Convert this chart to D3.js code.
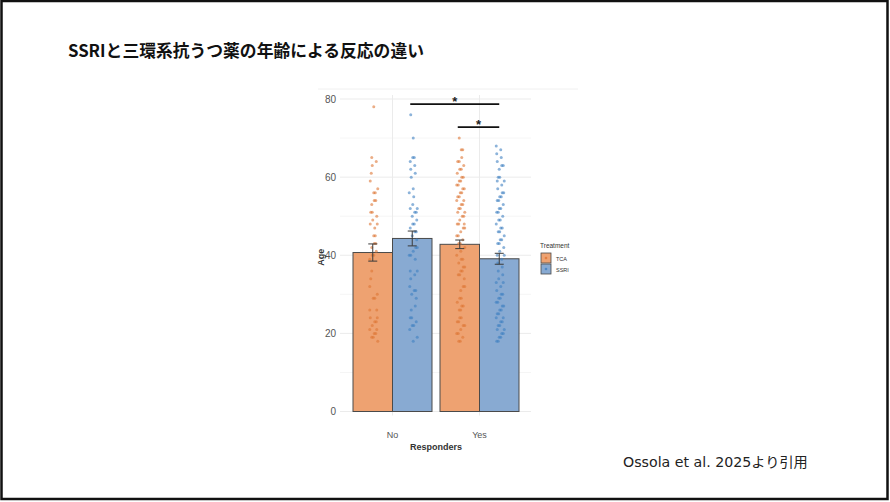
<!DOCTYPE html>
<html>
<head>
<meta charset="utf-8">
<script src="https://cdn.jsdelivr.net/npm/d3@7"></script>
<style>
  body { margin: 0; background: #fff; }
  svg { display: block; }
</style>
</head>
<body>
<div id="slide"></div>
<script>
  // data
  const responders = ["No", "Yes"];
  const treatments = ["TCA", "SSRI"];
  const meanAge = { No: [40.7, 44.3], Yes: [42.8, 39.1] };
  const seAge   = { No: [2.2, 1.9],   Yes: [1.1, 1.4] };
  const ageNoTCA = [78,65,64,63,61,59,57,56,56,54,54,53,51,51,50,49,48,48,47,45,45,43,43,42,41,
    40,40,39,36,34,32,30,29,29,26,26,24,24,23,23,22,21,21,20,20,19,19,18];
  const ageNoSSRI = [76,70,65,65,64,63,62,61,60,57,56,55,53,52,52,51,51,50,49,48,48,47,46,46,45,
    44,42,42,41,40,40,39,36,36,35,34,32,31,31,30,29,27,26,24,24,23,22,22,21,19,18];
  const ageYesTCA = [70,67,67,65,64,64,63,62,62,61,60,60,59,59,58,58,57,57,56,56,55,55,54,54,53,
    53,52,52,51,51,50,50,49,48,48,48,47,47,46,45,45,44,43,43,42,41,40,39,39,38,37,37,36,36,35,35,
    34,32,32,31,29,29,28,27,27,26,26,24,24,23,23,22,22,21,20,20,19,18,18];
  const ageYesSSRI = [68,67,66,65,64,63,63,62,60,60,59,59,58,57,56,56,55,55,54,54,53,52,52,51,51,
    50,49,49,48,47,47,46,46,45,44,44,43,43,42,41,40,40,39,38,37,36,35,34,33,33,32,31,30,30,29,29,
    28,28,27,27,26,26,25,25,24,24,23,23,22,22,21,21,20,20,19,19,18,18];
  const ageTicks = [0, 20, 40, 60, 80];
  const comparisons = [ ["No", "SSRI", "Yes", "SSRI"], ["Yes", "TCA", "Yes", "SSRI"] ];

  const W = 890, H = 502;
  const fillCol = { TCA: "#eea271", SSRI: "#88aad2" };
  const dotCol  = { TCA: "#de7636", SSRI: "#4080c2" };

  const svg = d3.select("#slide").append("svg")
    .attr("width", W).attr("height", H);

  // slide frame
  svg.append("rect")
    .attr("x", 1.5).attr("y", 1).attr("width", 886).attr("height", 498)
    .attr("fill", "#fff").attr("stroke", "#111").attr("stroke-width", 2.5);

  svg.append("text")
    .attr("x", 68).attr("y", 57)
    .style("font-family", "'Noto Sans CJK JP', sans-serif")
    .style("font-size", "16.8px").style("font-weight", "bold").style("fill", "#111")
    .text("SSRIと三環系抗うつ薬の年齢による反応の違い");

  svg.append("text")
    .attr("x", 623).attr("y", 467)
    .style("font-family", "'DejaVu Sans', 'Noto Sans CJK JP', sans-serif")
    .style("font-size", "14.2px").style("fill", "#222")
    .text("Ossola et al. 2025より引用");

  // faint edge of the pasted figure
  svg.append("line")
    .attr("x1", 318).attr("x2", 578).attr("y1", 89).attr("y2", 89)
    .style("stroke", "#f0f0f0").style("stroke-width", "1px");

  // plot panel
  const left = 340, right = 531;
  const x0 = d3.scaleBand().domain(responders).range([349, 523]).paddingInner(0.092).paddingOuter(0.046);
  const x1 = d3.scaleBand().domain(treatments).range([0, x0.bandwidth()]);
  const y = d3.scaleLinear().domain([0, 80]).range([411.5, 99]);
  const font = "'Liberation Sans', Arial, sans-serif";

  // grid
  const minor = [10, 30, 50, 70];
  svg.selectAll(".gminor").data(minor).enter().append("line")
    .attr("x1", left).attr("x2", right)
    .attr("y1", d => y(d)).attr("y2", d => y(d))
    .style("stroke", "#f3f3f3").style("stroke-width", "0.8px");
  svg.selectAll(".gmajor").data(ageTicks).enter().append("line")
    .attr("x1", left).attr("x2", right)
    .attr("y1", d => y(d)).attr("y2", d => y(d))
    .style("stroke", "#ebebeb").style("stroke-width", "1px");
  svg.selectAll(".gx").data(responders).enter().append("line")
    .attr("x1", d => x0(d) + x0.bandwidth() / 2).attr("x2", d => x0(d) + x0.bandwidth() / 2)
    .attr("y1", y(0) + 4).attr("y2", y(80) - 4)
    .style("stroke", "#ebebeb").style("stroke-width", "1px");

  // y axis
  const yAxis = svg.append("g")
    .attr("transform", `translate(${left - 2},0)`)
    .call(d3.axisLeft(y).tickValues(ageTicks).tickSize(0).tickPadding(2));
  yAxis.select(".domain").remove();
  yAxis.selectAll("text").style("font-family", font).style("font-size", "10px").style("fill", "#555");

  const xAxis = svg.append("g")
    .attr("transform", `translate(0,${y(0) + 17})`)
    .call(d3.axisBottom(x0).tickSize(0).tickPadding(3));
  xAxis.select(".domain").remove();
  xAxis.selectAll("text").style("font-family", font).style("font-size", "9px").style("fill", "#555");

  svg.append("text")
    .attr("x", 436).attr("y", 450).attr("text-anchor", "middle")
    .style("font-family", font).style("font-size", "9px").style("font-weight", "bold").style("fill", "#333")
    .text("Responders");
  svg.append("text")
    .attr("transform", `translate(324,${y(39.5)}) rotate(-90)`).attr("text-anchor", "middle")
    .style("font-family", font).style("font-size", "9px").style("font-weight", "bold").style("fill", "#333")
    .text("Age");

  // bars
  const bars = [];
  responders.forEach(r => treatments.forEach((t, k) => bars.push({ r, t, m: meanAge[r][k], se: seAge[r][k] })));
  const cx = d => x0(d.r) + x1(d.t) + x1.bandwidth() / 2;

  svg.selectAll(".bar").data(bars).enter().append("rect")
    .attr("x", d => x0(d.r) + x1(d.t))
    .attr("y", d => y(d.m))
    .attr("width", x1.bandwidth())
    .attr("height", d => y(0) - y(d.m))
    .style("fill", d => fillCol[d.t])
    .style("stroke", "#4a4a4a").style("stroke-width", "1px");

  // jittered points
  const groups = [
    { r: "No", t: "TCA", v: ageNoTCA }, { r: "No", t: "SSRI", v: ageNoSSRI },
    { r: "Yes", t: "TCA", v: ageYesTCA }, { r: "Yes", t: "SSRI", v: ageYesSSRI }
  ];
  groups.forEach(g => {
    const c = x0(g.r) + x1(g.t) + x1.bandwidth() / 2 + 1;
    svg.selectAll(null).data(g.v).enter().append("circle")
      .attr("cx", (d, i) => c + (((i * 37 + d * 11) % 17) / 16 - 0.5) * 8)
      .attr("cy", d => y(d))
      .attr("r", 1.5)
      .style("fill", dotCol[g.t]).style("fill-opacity", 0.6);
  });

  // error bars
  const eb = svg.selectAll(".eb").data(bars).enter().append("g")
    .style("stroke", "#3a3a3a").style("stroke-width", "1px");
  eb.append("line").attr("x1", cx).attr("x2", cx)
    .attr("y1", d => y(d.m + d.se)).attr("y2", d => y(d.m - d.se));
  eb.append("line").attr("x1", d => cx(d) - 4.5).attr("x2", d => cx(d) + 4.5)
    .attr("y1", d => y(d.m + d.se)).attr("y2", d => y(d.m + d.se));
  eb.append("line").attr("x1", d => cx(d) - 4.5).attr("x2", d => cx(d) + 4.5)
    .attr("y1", d => y(d.m - d.se)).attr("y2", d => y(d.m - d.se));

  // significance brackets
  const sigY = [78.7, 72.8];
  comparisons.forEach((c, i) => {
    const xa = x0(c[0]) + x1(c[1]) + x1.bandwidth() / 2 - 2;
    const xb = x0(c[2]) + x1(c[3]) + x1.bandwidth() / 2;
    svg.append("line")
      .attr("x1", xa).attr("x2", xb).attr("y1", y(sigY[i])).attr("y2", y(sigY[i]))
      .style("stroke", "#111").style("stroke-width", "1.7px");
    svg.append("text")
      .attr("x", (xa + xb) / 2).attr("y", y(sigY[i]) + 2).attr("text-anchor", "middle")
      .style("font-family", font).style("font-size", "13px").style("font-weight", "bold").style("fill", "#222")
      .text("*");
  });

  // legend
  const lg = svg.append("g").attr("transform", "translate(540,240)");
  lg.append("text").attr("x", 0).attr("y", 8)
    .style("font-family", font).style("font-size", "6.5px").style("fill", "#333")
    .text("Treatment");
  treatments.forEach((t, i) => {
    const row = lg.append("g").attr("transform", `translate(1,${13 + i * 11})`);
    row.append("rect").attr("width", 10).attr("height", 10)
      .style("fill", fillCol[t]).style("stroke", "#4a4a4a").style("stroke-width", "0.8px");
    row.append("circle").attr("cx", 5).attr("cy", 5).attr("r", 1.3)
      .style("fill", dotCol[t]).style("fill-opacity", 0.8);
    row.append("text").attr("x", 15).attr("y", 7.5)
      .style("font-family", font).style("font-size", "5.5px").style("fill", "#333")
      .text(t);
  });
</script>
</body>
</html>
